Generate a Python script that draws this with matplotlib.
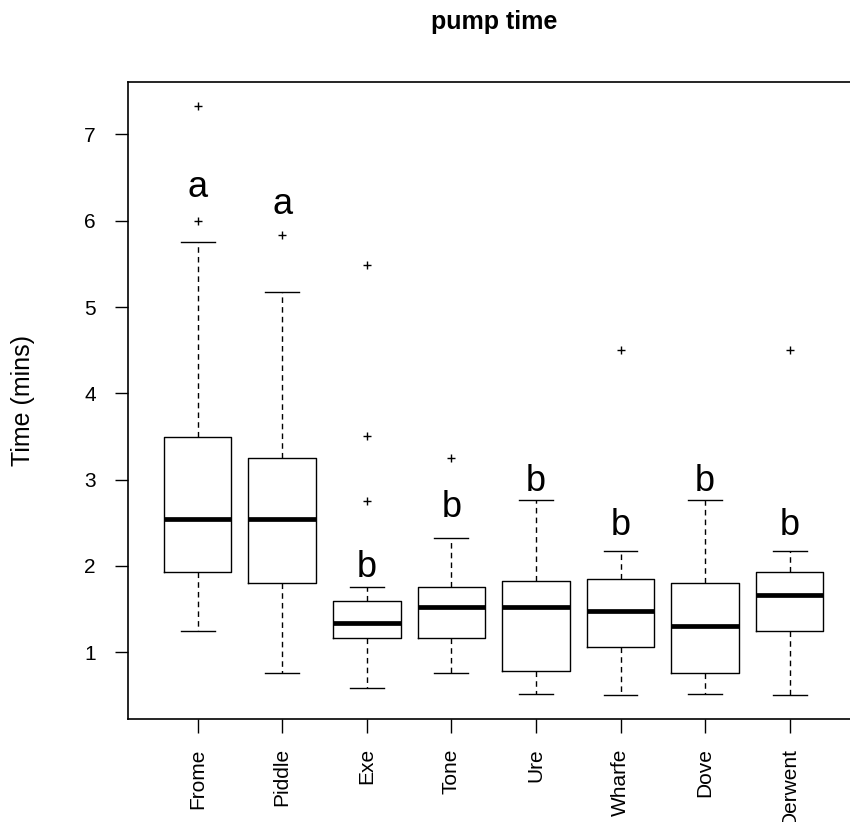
import matplotlib

matplotlib.use("Agg")
import matplotlib.pyplot as plt

plt.rcParams["font.family"] = ["Liberation Sans", "DejaVu Sans"]
plt.rcParams["lines.scale_dashes"] = False

rivers = ["Frome", "Piddle", "Exe", "Tone", "Ure", "Wharfe", "Dove", "Derwent"]
whisk_lo = [1.25, 0.76, 0.59, 0.76, 0.52, 0.51, 0.52, 0.51]
q1 = [1.93, 1.80, 1.17, 1.17, 0.78, 1.06, 0.76, 1.25]
median = [2.55, 2.55, 1.34, 1.52, 1.52, 1.48, 1.31, 1.66]
q3 = [3.50, 3.25, 1.59, 1.76, 1.83, 1.85, 1.80, 1.93]
whisk_hi = [5.75, 5.17, 1.76, 2.33, 2.76, 2.17, 2.76, 2.17]
outliers = [
    [7.33, 6.00],
    [5.83],
    [5.49, 3.51, 2.75],
    [3.25],
    [],
    [4.50],
    [],
    [4.50],
]
# significance letters and the height of their centre
letters = ["a", "a", "b", "b", "b", "b", "b", "b"]
letter_y = [6.38, 6.19, 1.98, 2.68, 2.98, 2.47, 2.98, 2.47]

stats = []
for i, name in enumerate(rivers):
    stats.append({"label": name, "whislo": whisk_lo[i], "q1": q1[i], "med": median[i],
                  "q3": q3[i], "whishi": whisk_hi[i], "fliers": outliers[i]})

W, H = 850, 822
fig = plt.figure(figsize=(W / 100, H / 100), dpi=100)
# the plot region runs just past the right edge of the picture (cropped original)
x0, x1, ytop, ybot = 128.3, 859.0, 82.0, 719.0
ax = fig.add_axes([x0 / W, 1 - ybot / H, (x1 - x0) / W, (ybot - ytop) / H])

lw = 1.0
ax.bxp(stats, positions=range(1, len(rivers) + 1), widths=0.8, capwidths=0.4,
       boxprops=dict(color="black", lw=lw),
       whiskerprops=dict(color="black", lw=lw, linestyle=(0, (4, 3))),
       capprops=dict(color="black", lw=lw),
       medianprops=dict(color="black", lw=3.4, solid_capstyle="butt"),
       flierprops=dict(marker="+", markersize=6, markeredgewidth=1.0,
                       markeredgecolor="black", linestyle="none"))

for i, (t, yv) in enumerate(zip(letters, letter_y)):
    ax.text(i + 1, yv, t, fontsize=26, ha="center", va="center")

ax.set_xlim(0.18, 8.82)
ax.set_ylim(0.227, 7.608)
ax.set_yticks(range(1, 8))
ax.set_xticks(range(1, len(rivers) + 1))
ax.set_xticklabels(rivers, rotation=90, fontsize=15)
ax.tick_params(axis="y", labelsize=15, length=9.4, width=lw, pad=14, direction="out")
ax.tick_params(axis="x", length=10, width=lw, pad=11, direction="out")
for s in ax.spines.values():
    s.set_linewidth(1.2)

fig.text(494 / W, 1 - 29.5 / H, "pump time", fontsize=18, fontweight="bold",
         ha="center", va="baseline")
fig.text(30 / W, 1 - 400 / H, "Time (mins)", fontsize=18, rotation=90,
         rotation_mode="anchor", ha="center", va="baseline")

fig.savefig("out.png", dpi=100)
